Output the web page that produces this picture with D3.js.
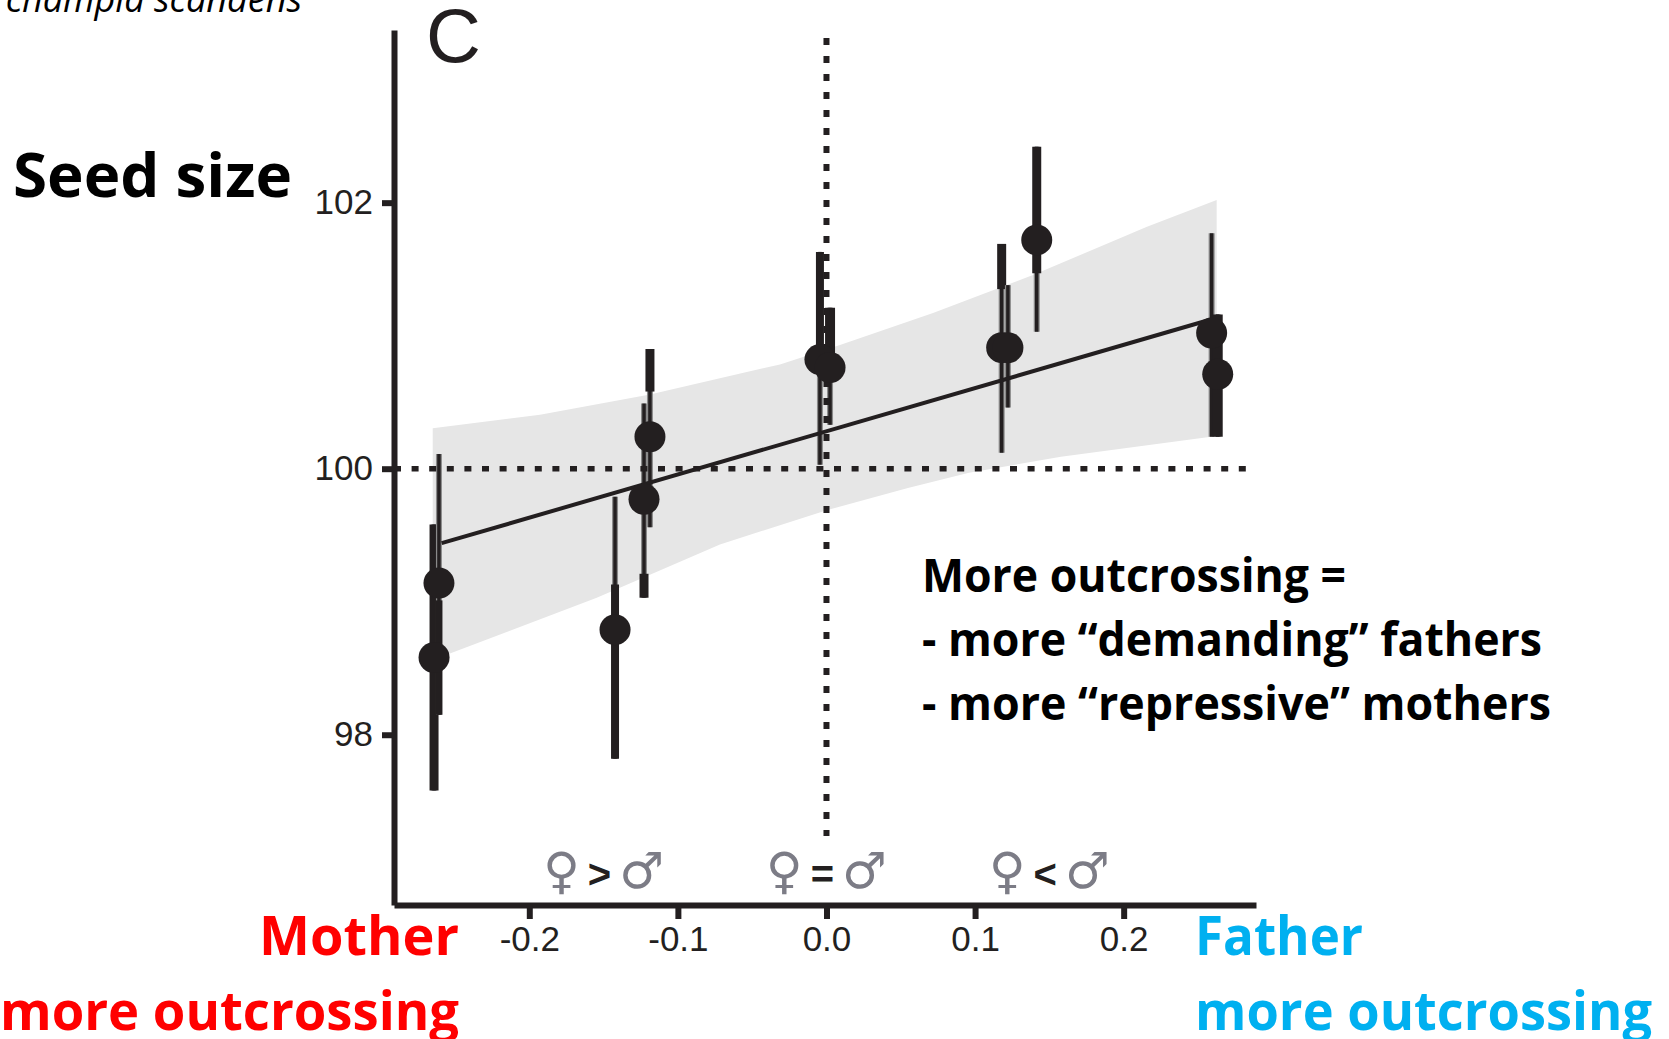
<!DOCTYPE html>
<html>
<head>
<meta charset="utf-8">
<script src="https://cdn.jsdelivr.net/npm/d3@7"></script>
<style>
  html, body { margin: 0; padding: 0; background: #fff; overflow: hidden; }
  svg { display: block; }
  .axis path, .axis line { stroke: #231f20; stroke-width: 6px; }
  .axis text { font-family: "Liberation Sans", sans-serif; font-size: 35px; fill: #231f20; stroke: none; }
  .note { font-family: "Open Sans", sans-serif; font-weight: 700; }
</style>
</head>
<body>
<svg id="chart" width="1669" height="1039"></svg>
<script>
// outcrossing difference (x) and seed size (y)
var xValues  = [-0.2641, -0.2608, -0.1423, -0.1228, -0.1188, -0.0044, 0.0024, 0.1179, 0.1221, 0.1415, 0.2592, 0.2633];
var yValues  = [98.58, 99.14, 98.79, 99.77, 100.24, 100.82, 100.76, 100.91, 100.91, 101.72, 101.02, 100.71];
var yUpper   = [99.58, 100.11, 99.79, 100.49, 100.90, 101.63, 101.21, 101.69, 101.38, 102.42, 101.77, 101.16];
var yLower   = [97.58, 98.15, 97.82, 99.03, 99.56, 100.03, 100.33, 100.12, 100.46, 101.03, 100.24, 100.24];
// the part of each error bar printed heavy in the source figure
var heavyHigh = [99.58, 99.01, 99.13, 99.21, 100.90, 101.63, 101.21, 101.69, null, 102.42, null, 101.16];
var heavyLow  = [97.58, 98.15, 97.82, 99.03, 100.58, 100.82, 100.82, 101.35, null, 101.47, null, 100.24];

var bandUpperX = [-0.2650, -0.1928, -0.1188, -0.0313, 0.0091, 0.0717, 0.1390, 0.2157, 0.2626];
var bandUpperY = [100.305, 100.406, 100.557, 100.784, 100.929, 101.170, 101.456, 101.819, 102.02];
var bandLowerX = [-0.2650, -0.2534, -0.1546, -0.0717, 0.0007, 0.0548, 0.0959, 0.1578, 0.2626];
var bandLowerY = [98.56, 98.61, 99.03, 99.43, 99.69, 99.854, 99.97, 100.09, 100.245];

var trendX = [-0.2590, 0.2581];
var trendY = [99.44, 101.12];

var xTicks = [-0.2, -0.1, 0.0, 0.1, 0.2];
var xTickLabels = ["-0.2", "-0.1", "0.0", "0.1", "0.2"];
var yTicks = [98, 100, 102];

var sexX = [-0.15, 0, 0.15];
var sexSigns = [">", "=", "<"];

var svg = d3.select("#chart");
var ink = "#231f20";

var x = d3.scaleLinear().domain([-0.29105, 0.28906]).range([394, 1256]);
var y = d3.scaleLinear().domain([96.72, 103.298]).range([905, 30]);

var bandOutline = d3.zip(bandUpperX, bandUpperY).concat(d3.zip(bandLowerX, bandLowerY).reverse());

svg.append("path")
    .attr("d", d3.line().x(function (d) { return x(d[0]); }).y(function (d) { return y(d[1]); })(bandOutline) + "Z")
    .attr("fill", "#e6e6e6");

// error bars
var heavyWidth = [9, 7, 8, 9, 9, 8, 10, 9, 0, 9, 0, 10];
var bars = svg.append("g").selectAll("g")
    .data(d3.range(xValues.length))
    .enter()
    .append("g");

bars.append("line")
    .attr("x1", function (i) { return x(xValues[i]); })
    .attr("x2", function (i) { return x(xValues[i]); })
    .attr("y1", function (i) { return y(yUpper[i]); })
    .attr("y2", function (i) { return y(yLower[i]); })
    .attr("stroke", "#8a8a8a")
    .attr("stroke-width", 6);

bars.append("line")
    .attr("x1", function (i) { return x(xValues[i]); })
    .attr("x2", function (i) { return x(xValues[i]); })
    .attr("y1", function (i) { return y(yUpper[i]); })
    .attr("y2", function (i) { return y(yLower[i]); })
    .attr("stroke", ink)
    .attr("stroke-width", 3.5);

bars.filter(function (i) { return heavyHigh[i] !== null; })
    .append("line")
    .attr("x1", function (i) { return x(xValues[i]); })
    .attr("x2", function (i) { return x(xValues[i]); })
    .attr("y1", function (i) { return y(heavyHigh[i]); })
    .attr("y2", function (i) { return y(heavyLow[i]); })
    .attr("stroke", ink)
    .attr("stroke-width", function (i) { return heavyWidth[i]; });

// reference lines at no difference
svg.append("line")
    .attr("x1", x.range()[0]).attr("x2", 1246)
    .attr("y1", y(100)).attr("y2", y(100))
    .attr("stroke", ink)
    .attr("stroke-width", 5.5)
    .attr("stroke-dasharray", "7 10.6");

svg.append("line")
    .attr("x1", x(0)).attr("x2", x(0))
    .attr("y1", 38).attr("y2", 836)
    .attr("stroke", ink)
    .attr("stroke-width", 6)
    .attr("stroke-dasharray", "7 11");

svg.append("line")
    .attr("x1", x(trendX[0])).attr("x2", x(trendX[1]))
    .attr("y1", y(trendY[0])).attr("y2", y(trendY[1]))
    .attr("stroke", ink)
    .attr("stroke-width", 4);

svg.append("g").selectAll("circle")
    .data(d3.range(xValues.length))
    .enter()
    .append("circle")
    .attr("r", 15.5)
    .attr("cx", function (i) { return x(xValues[i]); })
    .attr("cy", function (i) { return y(yValues[i]); })
    .attr("fill", ink);

// axes
var xAxis = d3.axisBottom(x)
    .tickValues(xTicks)
    .tickFormat(function (d, i) { return xTickLabels[i]; })
    .tickSize(14)
    .tickSizeOuter(0)
    .tickPadding(7);

var yAxis = d3.axisLeft(y)
    .tickValues(yTicks)
    .tickFormat(d3.format("d"))
    .tickSize(12)
    .tickSizeOuter(0)
    .tickPadding(9);

svg.append("g")
    .attr("class", "axis")
    .attr("transform", "translate(0," + y.range()[0] + ")")
    .call(xAxis);

svg.append("g")
    .attr("class", "axis")
    .attr("transform", "translate(" + x.range()[0] + ",0)")
    .call(yAxis);

// sex symbols above the x axis
var sexLabels = svg.append("g").selectAll("text")
    .data(sexX)
    .enter()
    .append("text")
    .attr("x", function (d) { return x(d); })
    .attr("y", 888)
    .attr("text-anchor", "middle")
    .attr("font-family", "DejaVu Sans")
    .attr("font-size", 50)
    .attr("fill", "#7c7c86");
sexLabels.append("tspan").text("\u2640");
sexLabels.append("tspan")
    .attr("dx", 8)
    .attr("fill", ink)
    .attr("font-family", "Liberation Sans")
    .attr("font-weight", 700)
    .attr("font-size", 40)
    .text(function (d, i) { return sexSigns[i]; });
sexLabels.append("tspan").attr("dx", 8).text("\u2642");

svg.append("text")
    .attr("x", 426).attr("y", 62)
    .attr("font-family", "Liberation Sans")
    .attr("font-size", 76)
    .attr("fill", ink)
    .text("C");

// overlaid notes
function note(label, left, baseline, width, size, colour) {
    svg.append("text")
        .attr("class", "note")
        .attr("x", left)
        .attr("y", baseline)
        .attr("font-size", size)
        .attr("fill", colour)
        .attr("textLength", width)
        .attr("lengthAdjust", "spacingAndGlyphs")
        .text(label);
}

note("Seed size", 13, 197, 279, 60, "#000");
note("More outcrossing =", 922, 592, 424, 46, "#000");
note("- more \u201cdemanding\u201d fathers", 922, 656, 620, 46, "#000");
note("- more \u201crepressive\u201d mothers", 922, 720, 629, 46, "#000");
note("Mother", 259, 955, 200, 54, "#ff0000");
note("more outcrossing", 0, 1030, 459, 54, "#ff0000");
note("Father", 1195, 955, 168, 54, "#00b0f0");
note("more outcrossing", 1195, 1030, 457, 54, "#00b0f0");

svg.append("text")
    .attr("x", 302).attr("y", 12)
    .attr("text-anchor", "end")
    .attr("font-family", "Open Sans")
    .attr("font-style", "italic")
    .attr("font-size", 36)
    .attr("fill", "#000")
    .text("champia scandens");
</script>
</body>
</html>
